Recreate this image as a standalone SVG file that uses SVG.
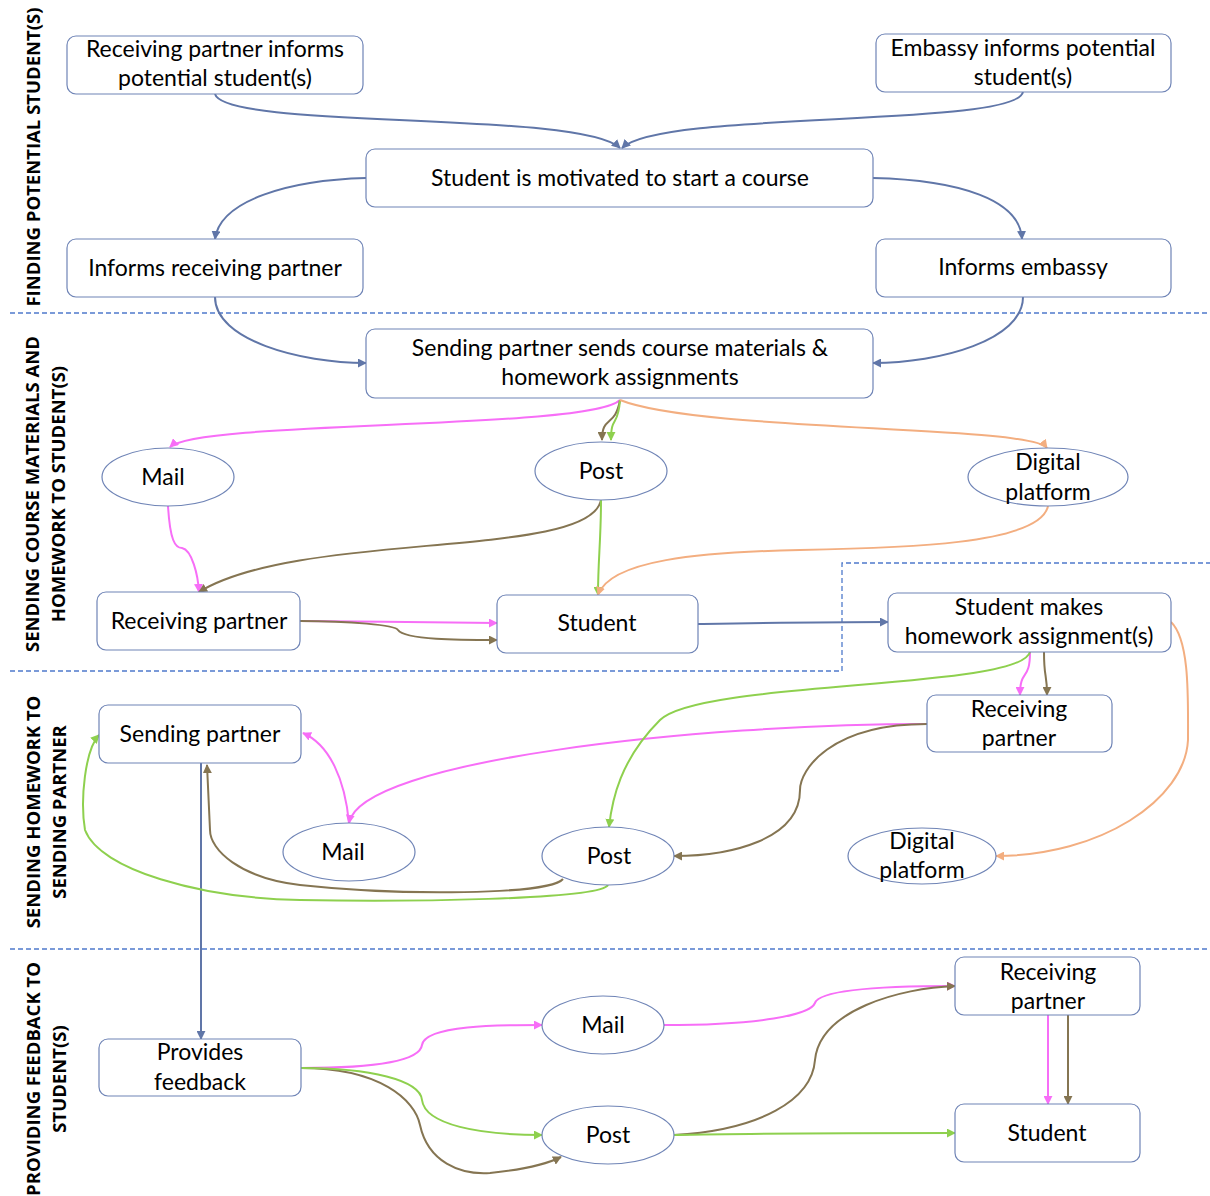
<svg xmlns="http://www.w3.org/2000/svg" width="1210" height="1196" viewBox="0 0 1210 1196">
<style>
.n{fill:#fff;stroke:#6f84b6;stroke-width:1.2}
.t{font-family:Lato,"Liberation Sans",sans-serif;font-size:23px;fill:#000;text-anchor:middle}
.s{font-family:"Open Sans","Liberation Sans",sans-serif;font-size:18.5px;font-weight:bold;fill:#000;text-anchor:middle}
.d{fill:none;stroke:#4f7acb;stroke-width:1.3;stroke-dasharray:5 3}
.c{fill:none;stroke-width:2}
.bl{stroke:#6076a8}.pk{stroke:#f76ef7}.br{stroke:#857552}.gr{stroke:#8ed04e}.or{stroke:#f3ae80}
</style>
<defs>
<marker id="ab" viewBox="0 0 10 10" refX="9" refY="5" markerWidth="9" markerHeight="9" markerUnits="userSpaceOnUse" orient="auto"><path d="M0,0L10,5L0,10z" fill="#6076a8"/></marker>
<marker id="ap" viewBox="0 0 10 10" refX="9" refY="5" markerWidth="9" markerHeight="9" markerUnits="userSpaceOnUse" orient="auto"><path d="M0,0L10,5L0,10z" fill="#f76ef7"/></marker>
<marker id="ar" viewBox="0 0 10 10" refX="9" refY="5" markerWidth="9" markerHeight="9" markerUnits="userSpaceOnUse" orient="auto"><path d="M0,0L10,5L0,10z" fill="#857552"/></marker>
<marker id="ag" viewBox="0 0 10 10" refX="9" refY="5" markerWidth="9" markerHeight="9" markerUnits="userSpaceOnUse" orient="auto"><path d="M0,0L10,5L0,10z" fill="#8ed04e"/></marker>
<marker id="ao" viewBox="0 0 10 10" refX="9" refY="5" markerWidth="9" markerHeight="9" markerUnits="userSpaceOnUse" orient="auto"><path d="M0,0L10,5L0,10z" fill="#f3ae80"/></marker>
</defs>
<rect width="1210" height="1196" fill="#fff"/>

<g id="lanes">
<path class="d" d="M10,313H1210"/>
<path class="d" d="M10,671H842V563H1210"/>
<path class="d" d="M10,949H1210"/>
<text class="s" transform="translate(40,157) rotate(-90)">FINDING POTENTIAL STUDENT(S)</text>
<text class="s" transform="translate(39,494) rotate(-90)">SENDING COURSE MATERIALS AND</text>
<text class="s" transform="translate(65,494) rotate(-90)">HOMEWORK TO STUDENT(S)</text>
<text class="s" transform="translate(40,812) rotate(-90)">SENDING HOMEWORK TO</text>
<text class="s" transform="translate(66,812) rotate(-90)">SENDING PARTNER</text>
<text class="s" transform="translate(40,1079) rotate(-90)">PROVIDING FEEDBACK TO</text>
<text class="s" transform="translate(66,1079) rotate(-90)">STUDENT(S)</text>
</g>

<g id="connectors">
<path class="c bl" marker-end="url(#ab)" d="M215,94C225,130 580,110 620,148"/>
<path class="c bl" marker-end="url(#ab)" d="M1023,92C1015,128 660,110 622,148"/>
<path class="c bl" marker-end="url(#ab)" d="M366,178C290,180 220,200 215,239"/>
<path class="c bl" marker-end="url(#ab)" d="M873,178C960,180 1020,200 1022,239"/>
<path class="c bl" marker-end="url(#ab)" d="M215,297C215,340 300,363 366,363"/>
<path class="c bl" marker-end="url(#ab)" d="M1023,297C1023,340 940,363 873,363"/>
<path class="c bl" marker-end="url(#ab)" d="M698,624C760,623 820,622 888,622"/>
<path class="c bl" marker-end="url(#ab)" d="M201,763V1039"/>

<path class="c pk" marker-end="url(#ap)" d="M620,400C590,430 200,420 170,447"/>
<path class="c pk" marker-end="url(#ap)" d="M168,506C170,540 175,548 182,548C192,550 198,575 199,592"/>
<path class="c pk" marker-end="url(#ap)" d="M300,621C360,621 450,623 497,623"/>
<path class="c pk" marker-end="url(#ap)" d="M1030,652C1030,682 1020,668 1020,695"/>
<path class="c pk" marker-end="url(#ap)" d="M927,724C700,724 360,760 349,823"/>
<path class="c pk" marker-end="url(#ap)" d="M349,823C345,780 330,745 303,733"/>
<path class="c pk" marker-end="url(#ap)" d="M301,1068C380,1068 420,1060 422,1045C425,1025 500,1025 542,1025"/>
<path class="c pk" marker-end="url(#ap)" d="M664,1025C760,1025 810,1015 815,1003C820,988 900,986 955,986"/>
<path class="c pk" marker-end="url(#ap)" d="M1048,1015V1104"/>

<path class="c br" marker-end="url(#ar)" d="M620,400C615,428 602,415 602,440"/>
<path class="c br" marker-end="url(#ar)" d="M601,500C590,560 300,530 199,592"/>
<path class="c br" marker-end="url(#ar)" d="M300,621C350,621 395,625 398,630C405,640 460,640 497,640"/>
<path class="c br" marker-end="url(#ar)" d="M1044,652C1044,680 1047,672 1047,695"/>
<path class="c br" marker-end="url(#ar)" d="M927,724C830,724 800,770 800,790C800,840 730,856 674,856"/>
<path class="c br" marker-end="url(#ar)" d="M563,879C550,895 400,896 300,885C240,878 210,850 210,830L207,765"/>
<path class="c br" marker-end="url(#ar)" d="M301,1068C380,1068 415,1100 420,1125C428,1162 460,1175 490,1173C520,1170 545,1165 561,1157"/>
<path class="c br" marker-end="url(#ar)" d="M674,1135C760,1130 812,1100 815,1060C820,1010 900,988 955,986"/>
<path class="c br" marker-end="url(#ar)" d="M1068,1015V1104"/>

<path class="c gr" marker-end="url(#ag)" d="M620,400C618,428 611,415 611,440"/>
<path class="c gr" marker-end="url(#ag)" d="M601,500C601,540 598,560 598,595"/>
<path class="c gr" marker-end="url(#ag)" d="M1030,652C1020,690 700,680 660,720C620,760 612,800 609,827"/>
<path class="c gr" marker-end="url(#ag)" d="M608,885C600,900 400,902 300,900C200,898 100,870 85,830C80,800 85,750 99,735"/>
<path class="c gr" marker-end="url(#ag)" d="M301,1068C370,1068 420,1080 422,1100C425,1125 480,1135 542,1135"/>
<path class="c gr" marker-end="url(#ag)" d="M674,1135C760,1133 860,1133 955,1133"/>

<path class="c or" marker-end="url(#ao)" d="M620,400C700,432 1030,425 1047,448"/>
<path class="c or" marker-end="url(#ao)" d="M1048,506C1040,545 900,548 800,550C700,552 610,560 598,595"/>
<path class="c or" marker-end="url(#ao)" d="M1171,622C1190,640 1188,700 1188,740C1185,800 1100,856 996,856"/>
</g>

<g id="n1"><rect class="n" x="67" y="36" width="296" height="58" rx="9"/><text class="t" x="215" y="57">Receiving partner informs</text><text class="t" x="215" y="86">potential student(s)</text></g>
<g id="n2"><rect class="n" x="876" y="34" width="295" height="58" rx="9"/><text class="t" x="1023" y="56">Embassy informs potential</text><text class="t" x="1023" y="85">student(s)</text></g>
<g id="n3"><rect class="n" x="366" y="149" width="507" height="58" rx="9"/><text class="t" x="620" y="186">Student is motivated to start a course</text></g>
<g id="n4"><rect class="n" x="67" y="239" width="296" height="58" rx="9"/><text class="t" x="215" y="276">Informs receiving partner</text></g>
<g id="n5"><rect class="n" x="876" y="239" width="295" height="58" rx="9"/><text class="t" x="1023" y="275">Informs embassy</text></g>
<g id="n6"><rect class="n" x="366" y="329" width="507" height="69" rx="9"/><text class="t" x="620" y="356">Sending partner sends course materials &amp;</text><text class="t" x="620" y="385">homework assignments</text></g>
<g id="n7"><ellipse class="n" cx="168" cy="477" rx="66" ry="29"/><text class="t" x="163" y="485">Mail</text></g>
<g id="n8"><ellipse class="n" cx="601" cy="471" rx="66" ry="29"/><text class="t" x="601" y="479">Post</text></g>
<g id="n9"><ellipse class="n" cx="1048" cy="477" rx="80" ry="29"/><text class="t" x="1048" y="470">Digital</text><text class="t" x="1048" y="500">platform</text></g>
<g id="n10"><rect class="n" x="97" y="592" width="203" height="58" rx="9"/><text class="t" x="199" y="629">Receiving partner</text></g>
<g id="n11"><rect class="n" x="497" y="595" width="201" height="58" rx="9"/><text class="t" x="597" y="631">Student</text></g>
<g id="n12"><rect class="n" x="888" y="593" width="283" height="59" rx="9"/><text class="t" x="1029" y="615">Student makes</text><text class="t" x="1029" y="644">homework assignment(s)</text></g>
<g id="n13"><rect class="n" x="927" y="695" width="185" height="57" rx="9"/><text class="t" x="1019" y="717">Receiving</text><text class="t" x="1019" y="746">partner</text></g>
<g id="n14"><rect class="n" x="99" y="705" width="202" height="58" rx="9"/><text class="t" x="200" y="742">Sending partner</text></g>
<g id="n15"><ellipse class="n" cx="349" cy="852" rx="66" ry="29"/><text class="t" x="343" y="860">Mail</text></g>
<g id="n16"><ellipse class="n" cx="608" cy="856" rx="66" ry="29"/><text class="t" x="609" y="864">Post</text></g>
<g id="n17"><ellipse class="n" cx="922" cy="856" rx="74" ry="28"/><text class="t" x="922" y="849">Digital</text><text class="t" x="922" y="878">platform</text></g>
<g id="n18"><rect class="n" x="99" y="1039" width="202" height="57" rx="9"/><text class="t" x="200" y="1060">Provides</text><text class="t" x="200" y="1090">feedback</text></g>
<g id="n19"><ellipse class="n" cx="603" cy="1025" rx="61" ry="29"/><text class="t" x="603" y="1033">Mail</text></g>
<g id="n20"><ellipse class="n" cx="608" cy="1135" rx="66" ry="29"/><text class="t" x="608" y="1143">Post</text></g>
<g id="n21"><rect class="n" x="955" y="957" width="185" height="58" rx="9"/><text class="t" x="1048" y="980">Receiving</text><text class="t" x="1048" y="1009">partner</text></g>
<g id="n22"><rect class="n" x="955" y="1104" width="185" height="58" rx="9"/><text class="t" x="1047" y="1141">Student</text></g>
</svg>
